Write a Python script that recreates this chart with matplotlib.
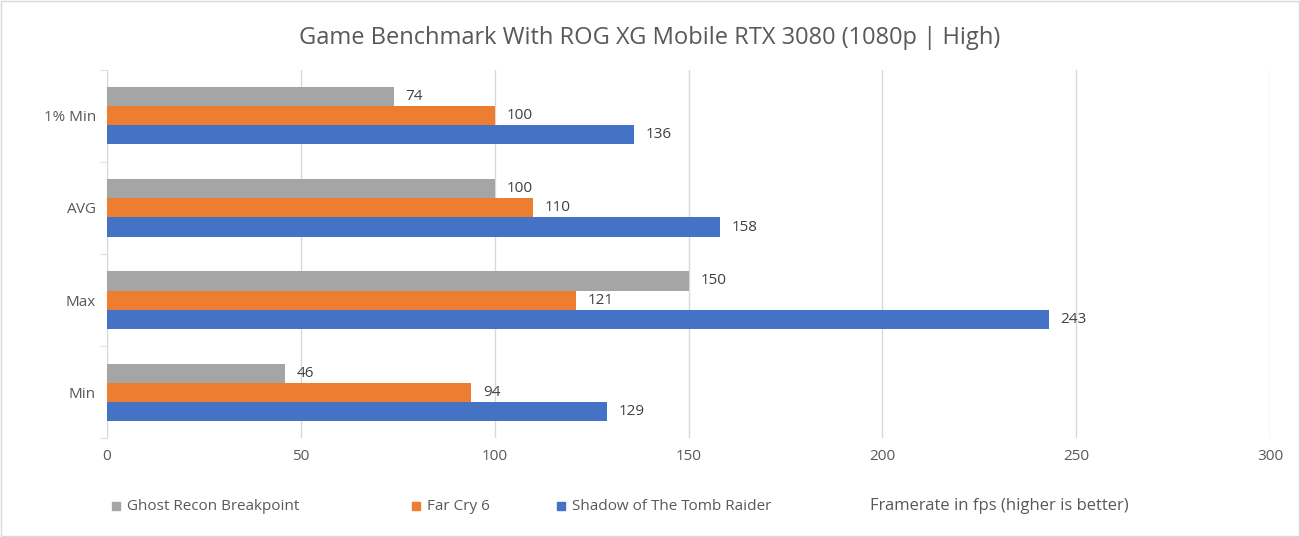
import matplotlib
matplotlib.use("Agg")
import matplotlib.pyplot as plt
import numpy as np

categories = ["1% Min", "AVG", "Max", "Min"]
ghost = [74, 100, 150, 46]
farcry = [100, 110, 121, 94]
tomb = [136, 158, 243, 129]
series_names = ["Ghost Recon Breakpoint", "Far Cry 6", "Shadow of The Tomb Raider"]
colors = ["#A5A5A5", "#ED7D31", "#4472C4"]
xticks = [0, 50, 100, 150, 200, 250, 300]

plt.rcParams["font.family"] = "Open Sans"
fig = plt.figure(figsize=(13, 5.37), dpi=100)
ax = fig.add_axes([0.0823, 0.184, 0.8947, 0.686])
n = len(categories)
pos = np.arange(n)[::-1].astype(float)
h = 0.207
for i, (vals, c) in enumerate(zip([ghost, farcry, tomb], colors)):
    y = pos + h * (1 - i)
    ax.barh(y, vals, height=h, color=c, zorder=3)
    for yy, v in zip(y, vals):
        ax.text(v + 3, yy, str(v), va="center", ha="left", fontsize=11, color="#404040")
ax.set_xlim(0, 300)
ax.set_ylim(-0.5, n - 0.5)
ax.set_xticks(xticks)
ax.set_yticks(pos)
ax.set_yticklabels(categories)
ax.tick_params(axis="both", length=0, labelsize=11, labelcolor="#595959", pad=8)
ax.grid(axis="x", color="#D9D9D9", linewidth=1, zorder=0)
for s in ["top", "right", "bottom"]:
    ax.spines[s].set_visible(False)
ax.spines["left"].set_color("#D9D9D9")
ax.set_yticks(np.arange(n + 1) - 0.5, minor=True)
ax.tick_params(axis="y", which="minor", length=5, color="#D9D9D9", direction="out")
fig.text(0.5, 0.93, "Game Benchmark With ROG XG Mobile RTX 3080 (1080p | High)",
         ha="center", va="center", fontsize=17, color="#595959")
lx = [112, 412, 557]
for x, name, c in zip(lx, series_names, colors):
    fig.patches.append(plt.Rectangle((x / 1300, 1 - 510 / 537), 8 / 1300, 8 / 537,
                                     transform=fig.transFigure, color=c))
    fig.text((x + 15) / 1300, 1 - 506 / 537, name, va="center", fontsize=11, color="#595959")
fig.text(870 / 1300, 1 - 506 / 537, "Framerate in fps (higher is better)", va="center",
         fontsize=12, color="#595959")
fig.patches.append(plt.Rectangle((0.001, 0.001), 0.998, 0.998, transform=fig.transFigure,
                                 fill=False, edgecolor="#D9D9D9"))
fig.savefig("out.png", dpi=100)
